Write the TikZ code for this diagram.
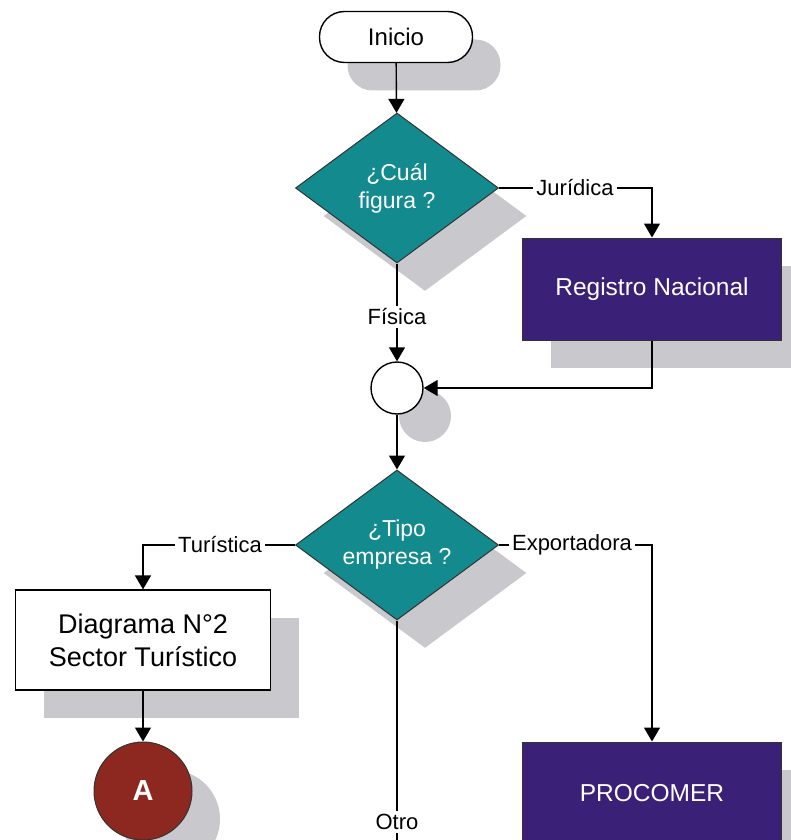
\documentclass[tikz,border=0pt]{standalone}
\usepackage{fontspec}
\setmainfont{Liberation Sans}
\usetikzlibrary{shapes.geometric,shadows,arrows.meta}
\definecolor{teal1}{RGB}{18,138,142}
\definecolor{purp}{RGB}{58,32,118}
\definecolor{redb}{RGB}{140,40,32}
\definecolor{shgray}{RGB}{200,200,205}
\begin{document}
\begin{tikzpicture}[x=1pt,y=-1pt,
  shd/.style={drop shadow={shadow xshift=28pt,shadow yshift=-28pt,fill=shgray,opacity=1}},
  term/.style={shd, draw=black, line width=1.4pt, fill=white, rounded corners=25pt, minimum width=153pt, minimum height=51pt, font=\fontsize{24}{28}\selectfont},
  dec/.style={shd, diamond, draw=black!80, line width=1pt, fill=teal1, minimum width=203pt, minimum height=150pt, aspect=1.35, inner sep=0pt, text=white, align=center, font=\fontsize{23}{28}\selectfont},
  proc/.style={shd, draw=black!80, line width=1pt, fill=purp, minimum width=259pt, minimum height=102pt, text=white, font=\fontsize{24.5}{29}\selectfont},
  wbox/.style={shd, draw=black, line width=1.2pt, fill=white, minimum width=255pt, minimum height=100pt, align=center, font=\fontsize{27}{33}\selectfont},
  junc/.style={shd, circle, draw=black, line width=1.4pt, fill=white, minimum size=52pt, inner sep=0pt},
  conn/.style={shd, circle, draw=black!80, line width=1pt, fill=redb, minimum size=98pt, inner sep=0pt, text=white, font=\bfseries\fontsize{29}{32}\selectfont},
  lbl/.style={fill=white, inner sep=3pt, font=\fontsize{22}{26}\selectfont},
  flow/.style={line width=1.4pt, -{Triangle[length=14pt,width=16pt]}},
  plain/.style={line width=1.4pt}
]
\useasboundingbox (0,0) rectangle (791,840);
\clip (0,0) rectangle (791,840);

\node[term] (ini) at (396,37) {Inicio};
\node[dec] (d1) at (397,188) {¿Cuál\\figura ?};
\node[proc] (reg) at (652,289) {Registro Nacional};
\node[junc] (jn) at (397,388) {};
\node[dec] (d2) at (397,545) {¿Tipo\\empresa ?};
\node[wbox] (diag) at (143,640) {Diagrama N°2\\Sector Turístico};
\node[conn] (A) at (143,791) {A};
\node[proc] (pc) at (652,793) {PROCOMER};
\coordinate (otroend) at (397,870);

\draw[flow] (ini) -- (d1);
\draw[flow] (d1.east) -| (reg.north);
\draw[flow] (d1.south) -- (jn.north);
\draw[flow] (reg.south) |- (jn.east);
\draw[flow] (jn.south) -- (d2.north);
\draw[flow] (d2.west) -| (diag.north);
\draw[flow] (d2.east) -| (pc.north);
\draw[flow] (diag.south) -- (A.north);
\draw[plain] (d2.south) -- (otroend);

\node[lbl] (ljur) at (575,188) {Jurídica};
\node[lbl] (lfis) at (397,317) {Física};
\node[lbl] (ltur) at (220,545) {Turística};
\node[lbl] (lexp) at (572,545) {Exportadora};
\node[lbl] (lotro) at (397,822) {Otro};
\end{tikzpicture}
\end{document}
